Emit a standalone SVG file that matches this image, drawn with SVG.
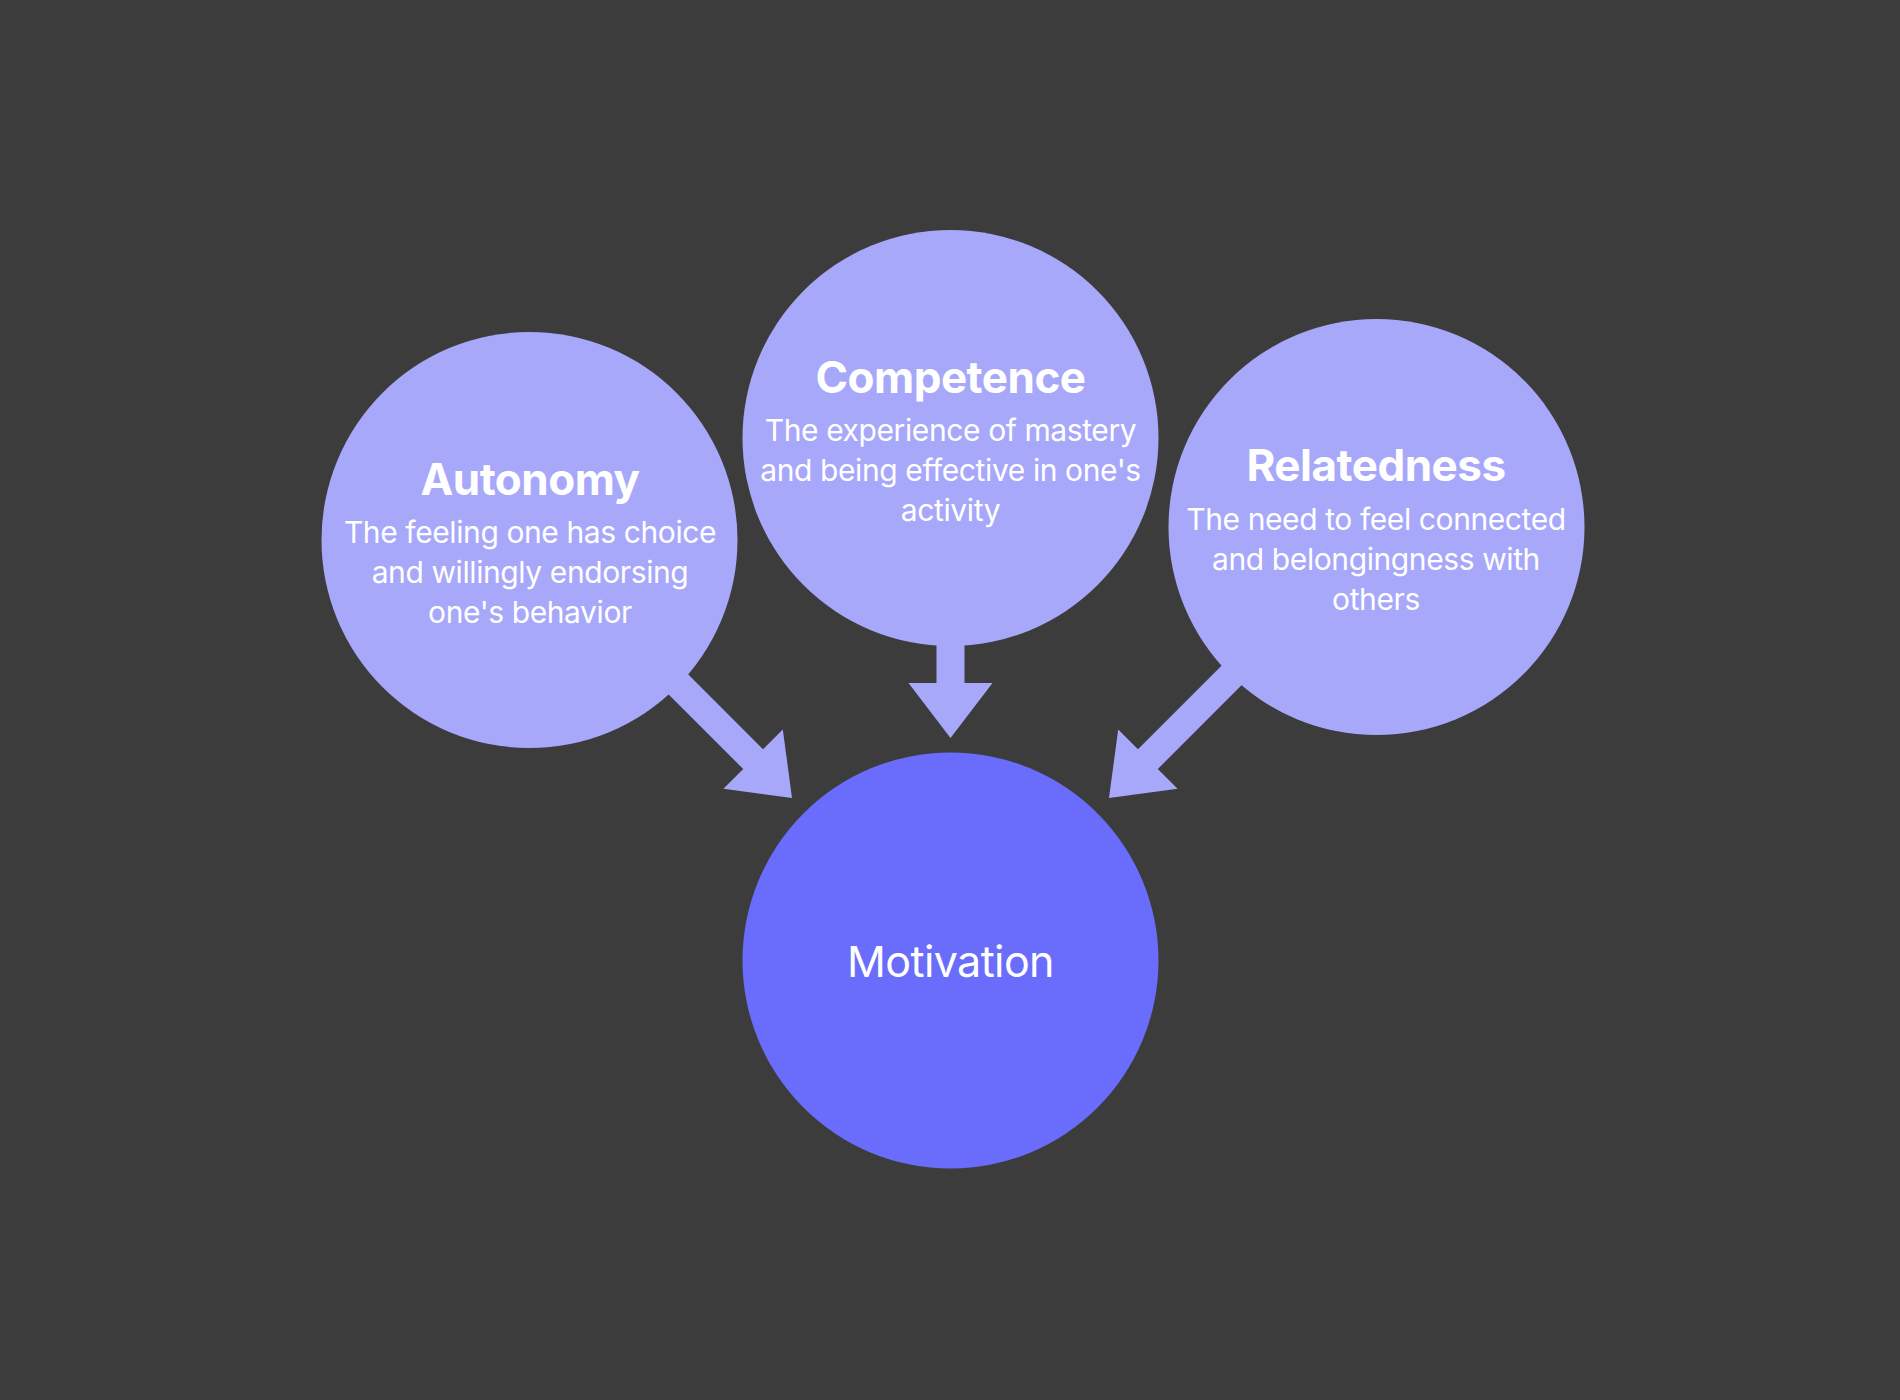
<svg xmlns="http://www.w3.org/2000/svg" width="1900" height="1400" viewBox="0 0 1900 1400">
  <style>
    .need { fill: #A8A8FB; }
    .core { fill: #6A6CFC; }
    .arrow { fill: #A8A8FB; }
    .title { font-family: Inter, "Noto Sans", "Liberation Sans", sans-serif; font-weight: 700; font-size: 44px; letter-spacing: -0.5px; fill: #FFFFFF; text-anchor: middle; }
    .body { font-family: Inter, "Noto Sans", "Liberation Sans", sans-serif; font-weight: 400; font-size: 30px; letter-spacing: -0.4px; fill: #FFFFFF; text-anchor: middle; }
    .main { font-family: Inter, "Noto Sans", "Liberation Sans", sans-serif; font-weight: 400; font-size: 43px; letter-spacing: -0.6px; fill: #FFFFFF; text-anchor: middle; }
  </style>
  <rect x="0" y="0" width="1900" height="1400" fill="#3C3C3C"/>
  <g id="connectors">
    <polygon class="arrow" points="609.9,596.1 763,749.2 782.8,729.4 792,798 723.4,788.8 743.2,769 590.1,615.9"/>
    <polygon class="arrow" points="936.5,600 964.5,600 964.5,683 992.5,683 950.5,738 908.5,683 936.5,683"/>
    <polygon class="arrow" points="1291.1,596.1 1138,749.2 1118.2,729.4 1109,798 1177.6,788.8 1157.8,769 1310.9,615.9"/>
  </g>
  <g id="autonomy">
    <circle class="need" cx="529.5" cy="540" r="208"/>
    <text class="title" x="530" y="495">Autonomy</text>
    <text class="body" x="530" y="543">The feeling one has choice</text>
    <text class="body" x="530" y="583">and willingly endorsing</text>
    <text class="body" x="530" y="623">one's behavior</text>
  </g>
  <g id="competence">
    <circle class="need" cx="950.5" cy="438" r="208"/>
    <text class="title" x="950.5" y="393">Competence</text>
    <text class="body" x="950.5" y="441">The experience of mastery</text>
    <text class="body" x="950.5" y="481">and being effective in one's</text>
    <text class="body" x="950.5" y="521">activity</text>
  </g>
  <g id="relatedness">
    <circle class="need" cx="1376.5" cy="527" r="208"/>
    <text class="title" x="1376" y="481">Relatedness</text>
    <text class="body" x="1376" y="530">The need to feel connected</text>
    <text class="body" x="1376" y="570">and belongingness with</text>
    <text class="body" x="1376" y="610">others</text>
  </g>
  <g id="motivation">
    <circle class="core" cx="950.5" cy="960.5" r="208"/>
    <text class="main" x="950.5" y="977">Motivation</text>
  </g>
</svg>
